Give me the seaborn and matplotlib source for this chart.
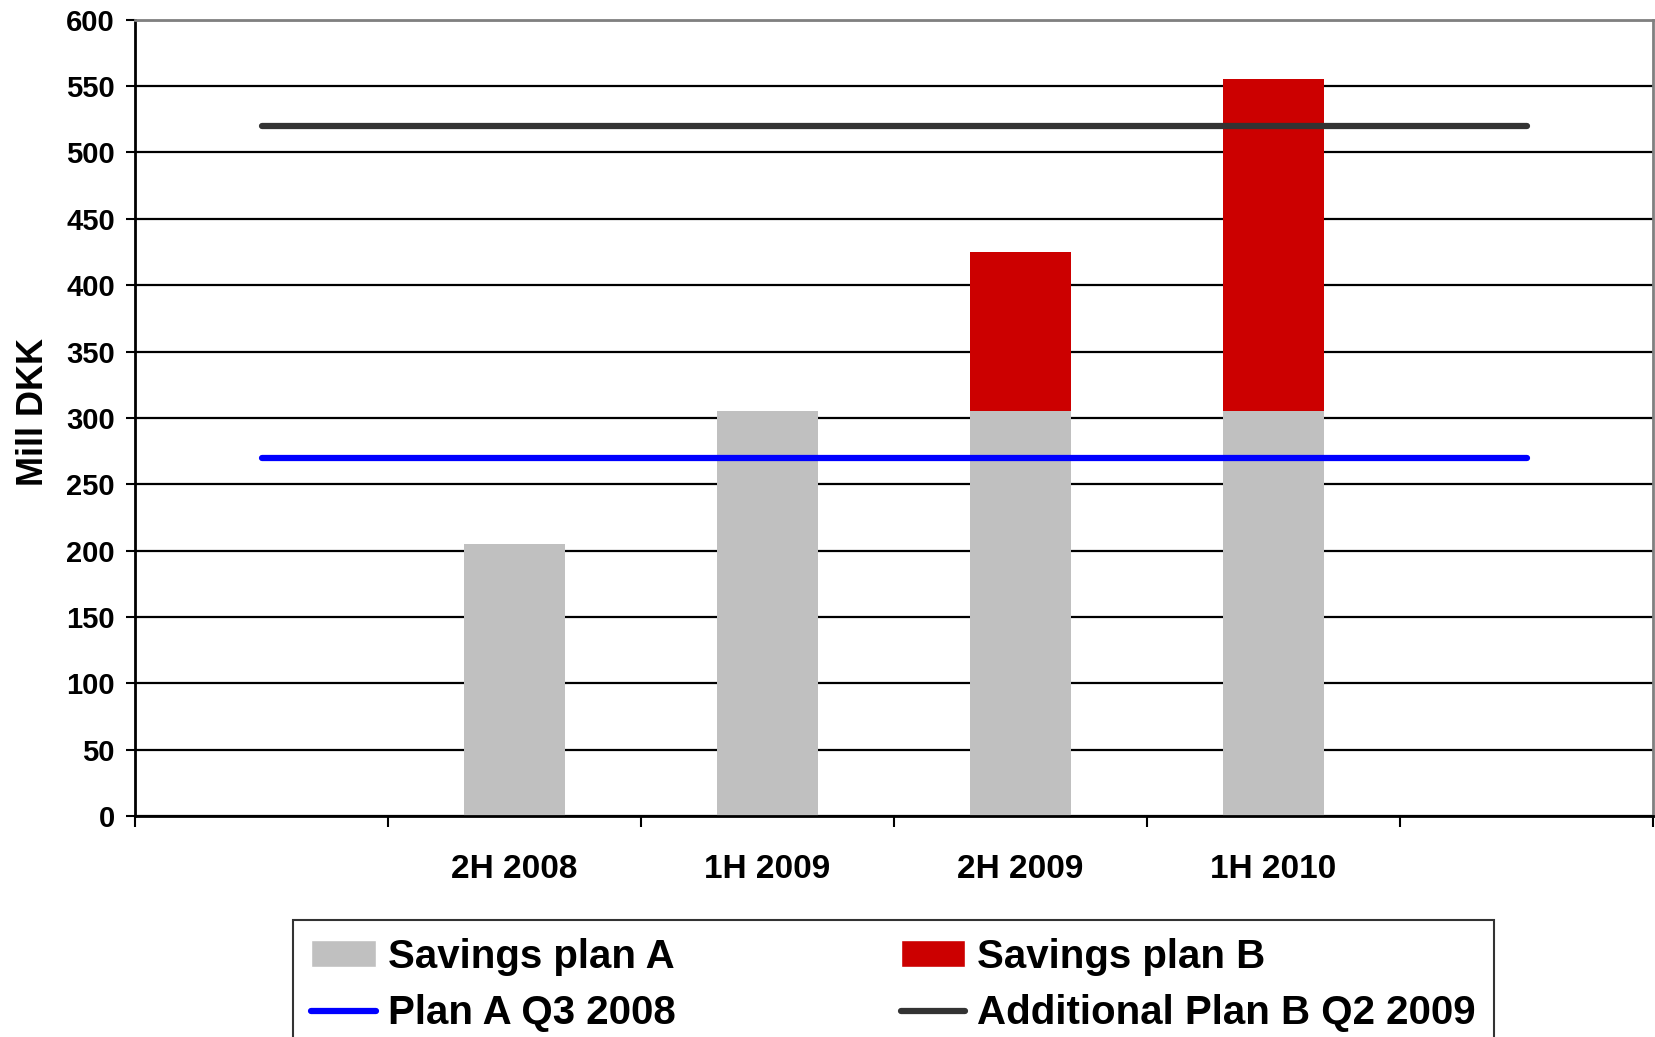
import numpy as np
import matplotlib
matplotlib.use("Agg")
import matplotlib.pyplot as plt
import seaborn as sns
from matplotlib.patches import Patch
from matplotlib.lines import Line2D

# ---------------- data ----------------
periods = ["", "2H 2008", "1H 2009", "2H 2009", "1H 2010", " "]
bar_periods = ["2H 2008", "1H 2009", "2H 2009", "1H 2010"]
plan_a = [205, 305, 305, 305]
plan_b = [0, 0, 120, 250]
plan_a_q3_2008 = 270
plan_b_q2_2009 = 520
y_ticks = list(range(0, 601, 50))

GREY = "#C0C0C0"
RED = "#CC0000"
BLUE = "#0000FF"
DARK = "#333333"

sns.set_style("white")
plt.rcParams["font.family"] = ["Liberation Sans", "DejaVu Sans"]
plt.rcParams["font.weight"] = "bold"
plt.rcParams["text.color"] = "black"
plt.rcParams["axes.labelcolor"] = "black"
plt.rcParams["xtick.color"] = "black"
plt.rcParams["ytick.color"] = "black"

fig, ax = plt.subplots(figsize=(16.55, 10.37), dpi=100)
fig.subplots_adjust(left=0.0816, right=0.9988, top=0.981, bottom=0.213)

# red = A + B total, grey A drawn over it
totals = [a + b for a, b in zip(plan_a, plan_b)]
sns.barplot(x=bar_periods, y=totals, order=periods, color=RED, saturation=1,
            width=0.4, linewidth=0, ax=ax, zorder=2)
sns.barplot(x=bar_periods, y=plan_a, order=periods, color=GREY, saturation=1,
            width=0.4, linewidth=0, ax=ax, zorder=2)

ends = [0, len(periods) - 1]
sns.lineplot(x=ends, y=[plan_a_q3_2008] * 2, color=BLUE, lw=4.5,
             solid_capstyle="round", ax=ax, zorder=3)
sns.lineplot(x=ends, y=[plan_b_q2_2009] * 2, color=DARK, lw=4.5,
             solid_capstyle="round", ax=ax, zorder=3)

ax.set_xlim(-0.5, len(periods) - 0.5)
ax.set_ylim(0, 600)
ax.set_yticks(y_ticks)
ax.set_yticklabels([str(t) for t in y_ticks], fontsize=21, fontweight="bold")
ax.yaxis.grid(True, color="black", lw=1.6)
ax.xaxis.grid(False)
ax.set_axisbelow(True)

ax.set_xticks(np.arange(len(periods) + 1) - 0.5)
ax.set_xticklabels([])
ax.set_xticks(range(len(periods)), minor=True)
ax.set_xticklabels(periods, minor=True, fontsize=24, fontweight="bold")
ax.tick_params(axis="x", which="major", direction="out", length=8, width=1.5,
               color="black", bottom=True)
ax.tick_params(axis="x", which="minor", length=0, pad=27)
ax.tick_params(axis="y", direction="out", length=6.5, width=1.5, color="black",
               left=True, pad=8)
ax.set_xlabel("")
ax.set_ylabel("Mill DKK", fontsize=26, fontweight="bold", labelpad=11)
ax.yaxis.label.set_y(0.507)

for side in ["left", "bottom"]:
    ax.spines[side].set_color("black")
    ax.spines[side].set_linewidth(2)
for side in ["top", "right"]:
    ax.spines[side].set_color("#808080")
    ax.spines[side].set_linewidth(2)

handles = [
    Patch(facecolor=GREY, label="Savings plan A"),
    Line2D([], [], color=BLUE, lw=4.5, solid_capstyle="round", label="Plan A Q3 2008"),
    Patch(facecolor=RED, label="Savings plan B"),
    Line2D([], [], color=DARK, lw=4.5, solid_capstyle="round", label="Additional Plan B Q2 2009"),
]
leg = fig.legend(handles=handles, ncol=2, loc="upper left",
                 bbox_to_anchor=(0.177, 0.113), bbox_transform=fig.transFigure,
                 prop={"size": 29, "weight": "bold"}, frameon=True, fancybox=False,
                 edgecolor="black", handlelength=1.6, handleheight=0.65,
                 handletextpad=0.3, columnspacing=5.6, labelspacing=0.46,
                 borderpad=0.45, borderaxespad=0)
leg.get_frame().set_linewidth(1.5)

fig.savefig("out.png", dpi=100)
